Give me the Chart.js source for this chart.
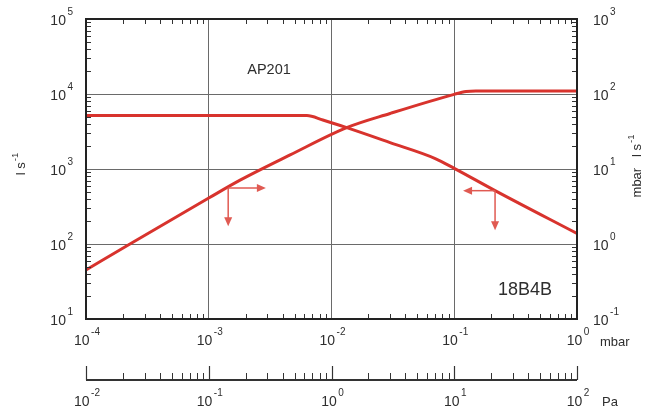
<!DOCTYPE html>
<html>
<head>
<meta charset="utf-8">
<script src="https://cdn.jsdelivr.net/npm/chart.js@4.4.1/dist/chart.umd.min.js"></script>
<style>
  html, body { margin: 0; padding: 0; background: #ffffff; }
  canvas { display: block; }
</style>
</head>
<body>
<canvas id="c" width="662" height="412"></canvas>
<script>
// ---- data ----
// pumping speed curve, left axis (l s-1) vs pressure (mbar)
const speedPressure = [1e-4, 6.3e-3, 8.5e-3, 0.0133, 0.03, 0.07, 0.1, 0.215, 1];
const speedValues   = [5150, 5150, 4500, 3560, 2250, 1380, 1020, 515, 138];
// throughput curve, right axis (mbar l s-1) vs pressure (mbar)
const throughputPressure = [1e-4, 2.28e-4, 1e-3, 1.8e-3, 4.6e-3, 0.0133, 0.03, 0.1, 0.125, 0.15, 1];
const throughputValues   = [0.45, 1.0, 4.1, 7.1, 15.4, 35.6, 55, 99, 108, 110, 110];

// tick labels
const mbarTicks = [1e-4, 1e-3, 1e-2, 1e-1, 1];
const paTicks = [1e-2, 1e-1, 1, 10, 100];
const speedTicks = [10, 100, 1000, 10000, 100000];
const throughputTicks = [0.1, 1, 10, 100, 1000];

// annotation arrows: corner [p, S] and tips (pressure in mbar, speed in l s-1)
const arrowLeftCorner = [1.44e-3, 558];
const arrowLeftTips = [[2.92e-3, 558], [1.44e-3, 172]];
const arrowRightCorner = [0.215, 514];
const arrowRightTips = [[0.118, 514], [0.215, 152]];

const chartTitle = 'AP201';
const modelLabel = '18B4B';
const unitMbar = 'mbar';
const unitPa = 'Pa';

// ---- styling ----
const RED = '#d8332d';
const ARROW = '#e05a52';
const TXT = '#2e2e2e';
const FONT = '"Liberation Sans", Arial, Helvetica, sans-serif';

function expOf(v) { return String(Math.round(Math.log10(v))); }

function drawPow(ctx, exp, x, y, align) {
  ctx.font = '14px ' + FONT;
  const wb = ctx.measureText('10').width;
  ctx.font = '10px ' + FONT;
  const we = ctx.measureText(exp).width;
  const gap = 1.5;
  const total = wb + gap + we;
  let x0 = align === 'right' ? x - total : (align === 'left' ? x : x - total / 2);
  ctx.textAlign = 'left';
  ctx.textBaseline = 'middle';
  ctx.font = '14px ' + FONT;
  ctx.fillText('10', x0, y);
  ctx.font = '10px ' + FONT;
  ctx.fillText(exp, x0 + wb + gap, y - 8.5);
}

function minorValues(min, max) {
  const out = [];
  for (let d = min; d < max * 0.999; d *= 10) {
    for (let m = 2; m <= 9; m++) out.push(m * d);
  }
  return out;
}

function arrowHead(ctx, x, y, dx, dy) {
  const len = 9, hw = 4;
  const bx = x - dx * len, by = y - dy * len;
  ctx.beginPath();
  ctx.moveTo(x, y);
  ctx.lineTo(bx + dy * hw, by - dx * hw);
  ctx.lineTo(bx - dy * hw, by + dx * hw);
  ctx.closePath();
  ctx.fill();
}

function drawArrowGroup(ctx, xs, ys, corner, tips) {
  const cx = xs.getPixelForValue(corner[0]);
  const cy = ys.getPixelForValue(corner[1]);
  ctx.strokeStyle = ARROW;
  ctx.fillStyle = ARROW;
  ctx.lineWidth = 1.5;
  tips.forEach(t => {
    const tx = xs.getPixelForValue(t[0]);
    const ty = ys.getPixelForValue(t[1]);
    const L = Math.hypot(tx - cx, ty - cy);
    const dx = (tx - cx) / L, dy = (ty - cy) / L;
    ctx.beginPath();
    ctx.moveTo(cx, cy);
    ctx.lineTo(tx - dx * 7, ty - dy * 7);
    ctx.stroke();
    arrowHead(ctx, tx, ty, dx, dy);
  });
}

const decor = {
  id: 'decor',
  afterDatasetsDraw(chart) {
    const ctx = chart.ctx;
    const a = chart.chartArea;
    const xs = chart.scales.x, x2 = chart.scales.x2, ys = chart.scales.y, y2 = chart.scales.y2;
    ctx.save();

    // arrows
    drawArrowGroup(ctx, xs, ys, arrowLeftCorner, arrowLeftTips);
    drawArrowGroup(ctx, xs, ys, arrowRightCorner, arrowRightTips);

    // minor ticks inside the box
    ctx.strokeStyle = '#333';
    ctx.lineWidth = 1;
    minorValues(ys.min, ys.max).forEach(v => {
      const y = Math.round(ys.getPixelForValue(v)) + 0.5;
      ctx.beginPath(); ctx.moveTo(a.left, y); ctx.lineTo(a.left + 5, y); ctx.stroke();
    });
    minorValues(y2.min, y2.max).forEach(v => {
      const y = Math.round(y2.getPixelForValue(v)) + 0.5;
      ctx.beginPath(); ctx.moveTo(a.right - 5, y); ctx.lineTo(a.right, y); ctx.stroke();
    });
    minorValues(xs.min, xs.max).forEach(v => {
      const x = Math.round(xs.getPixelForValue(v)) + 0.5;
      ctx.beginPath(); ctx.moveTo(x, a.bottom); ctx.lineTo(x, a.bottom - 5); ctx.stroke();
      ctx.beginPath(); ctx.moveTo(x, a.top); ctx.lineTo(x, a.top + 5); ctx.stroke();
    });

    // box
    ctx.strokeStyle = '#222';
    ctx.lineWidth = 2;
    ctx.strokeRect(a.left, a.top, a.right - a.left, a.bottom - a.top);

    // tick labels
    ctx.fillStyle = TXT;
    speedTicks.forEach(v => drawPow(ctx, expOf(v), a.left - 13, ys.getPixelForValue(v) + 2, 'right'));
    throughputTicks.forEach(v => drawPow(ctx, expOf(v), a.right + 16, y2.getPixelForValue(v) + 2, 'left'));
    mbarTicks.forEach(v => drawPow(ctx, expOf(v), xs.getPixelForValue(v) + 1, a.bottom + 22, 'center'));

    // Pa axis
    const paY = 380;
    ctx.strokeStyle = '#333';
    ctx.lineWidth = 2;
    ctx.beginPath(); ctx.moveTo(x2.left, paY); ctx.lineTo(x2.right, paY); ctx.stroke();
    ctx.lineWidth = 1.2;
    paTicks.forEach(v => {
      const x = Math.round(x2.getPixelForValue(v)) + 0.5;
      ctx.beginPath(); ctx.moveTo(x, paY); ctx.lineTo(x, paY - 14); ctx.stroke();
    });
    ctx.lineWidth = 1;
    minorValues(x2.min, x2.max).forEach(v => {
      const x = Math.round(x2.getPixelForValue(v)) + 0.5;
      ctx.beginPath(); ctx.moveTo(x, paY); ctx.lineTo(x, paY - 7); ctx.stroke();
    });
    ctx.fillStyle = TXT;
    paTicks.forEach(v => drawPow(ctx, expOf(v), x2.getPixelForValue(v) + 1, paY + 22, 'center'));

    // unit labels
    ctx.font = '13px ' + FONT;
    ctx.textAlign = 'left';
    ctx.textBaseline = 'middle';
    ctx.fillText(unitMbar, 600, 342);
    ctx.fillText(unitPa, 602, 402);

    // axis titles (rotated)
    function rotTitle(text, cx, cy) {
      ctx.save();
      ctx.translate(cx, cy);
      ctx.rotate(-Math.PI / 2);
      ctx.font = '13px ' + FONT;
      const wt = ctx.measureText(text).width;
      ctx.font = '9.5px ' + FONT;
      const we = ctx.measureText('-1').width;
      const total = wt + 1 + we;
      ctx.textAlign = 'left';
      ctx.textBaseline = 'middle';
      ctx.font = '13px ' + FONT;
      ctx.fillText(text, -total / 2, 0);
      ctx.font = '9.5px ' + FONT;
      ctx.fillText('-1', -total / 2 + wt + 1, -6);
      ctx.restore();
    }
    rotTitle('l s', 21, 164);
    rotTitle('mbar   l s', 637, 166);

    // in-plot texts
    ctx.fillStyle = TXT;
    ctx.textAlign = 'center';
    ctx.textBaseline = 'middle';
    ctx.font = '14.5px ' + FONT;
    ctx.fillText(chartTitle, 269, 70);
    ctx.font = '18px ' + FONT;
    ctx.fillText(modelLabel, 525, 290);

    ctx.restore();
  }
};

const decadeTicks = arr => scale => { scale.ticks = arr.map(v => ({ value: v })); };

new Chart(document.getElementById('c'), {
  type: 'line',
  data: {
    datasets: [
      {
        data: speedPressure.map((p, i) => ({ x: p, y: speedValues[i] })),
        xAxisID: 'x', yAxisID: 'y',
        borderColor: RED, borderWidth: 3, pointRadius: 0,
        cubicInterpolationMode: 'monotone', fill: false
      },
      {
        data: throughputPressure.map((p, i) => ({ x: p, y: throughputValues[i] })),
        xAxisID: 'x', yAxisID: 'y2',
        borderColor: RED, borderWidth: 3, pointRadius: 0,
        cubicInterpolationMode: 'monotone', fill: false
      }
    ]
  },
  options: {
    responsive: false,
    animation: false,
    devicePixelRatio: 1,
    layout: { padding: { left: 86, right: 85, top: 19, bottom: 93 } },
    plugins: { legend: { display: false }, tooltip: { enabled: false } },
    scales: {
      x: {
        type: 'logarithmic', position: 'bottom', min: mbarTicks[0], max: mbarTicks[mbarTicks.length - 1],
        afterBuildTicks: decadeTicks(mbarTicks),
        ticks: { display: false },
        grid: { color: '#6a6a6a', lineWidth: 1, drawTicks: false },
        border: { display: false }
      },
      x2: {
        type: 'logarithmic', position: 'bottom', min: paTicks[0], max: paTicks[paTicks.length - 1],
        display: false
      },
      y: {
        type: 'logarithmic', position: 'left', min: speedTicks[0], max: speedTicks[speedTicks.length - 1],
        afterBuildTicks: decadeTicks(speedTicks),
        ticks: { display: false },
        grid: { color: '#6a6a6a', lineWidth: 1, drawTicks: false },
        border: { display: false }
      },
      y2: {
        type: 'logarithmic', position: 'right', min: throughputTicks[0], max: throughputTicks[throughputTicks.length - 1],
        display: false
      }
    }
  },
  plugins: [decor]
});
</script>
</body>
</html>
